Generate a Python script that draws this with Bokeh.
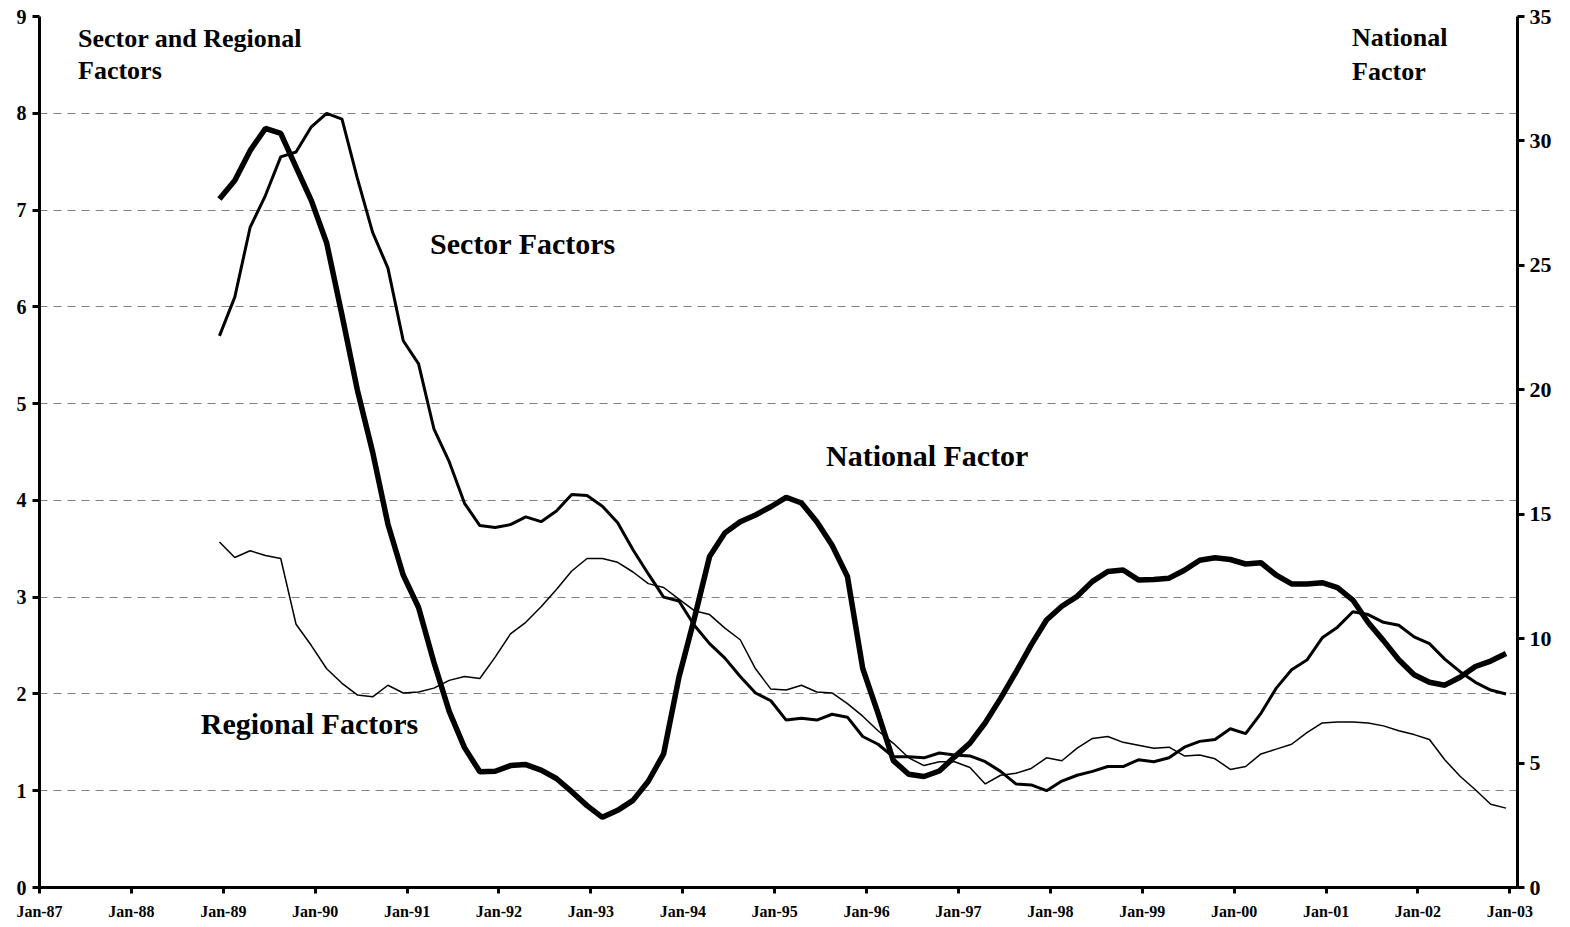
from bokeh.plotting import figure
from bokeh.models import Range1d, LinearAxis, FixedTicker, Label
from bokeh.embed import file_html
from bokeh.resources import INLINE

# months since Jan-87 (bimonthly readings, Dec-88 .. Dec-02)
months = list(range(23, 192, 2))

sector = [5.70, 6.10, 6.82, 7.15, 7.55, 7.60, 7.86, 8.00, 7.94, 7.33,
          6.77, 6.40, 5.65, 5.41, 4.74, 4.40, 3.97, 3.74, 3.72, 3.75,
          3.83, 3.78, 3.89, 4.06, 4.05, 3.94, 3.77, 3.49, 3.24, 3.00,
          2.96, 2.71, 2.52, 2.37, 2.18, 2.01, 1.93, 1.73, 1.75, 1.73,
          1.79, 1.76, 1.56, 1.48, 1.35, 1.35, 1.34, 1.39, 1.37, 1.36,
          1.30, 1.20, 1.07, 1.06, 1.00, 1.10, 1.16, 1.20, 1.25, 1.25,
          1.32, 1.30, 1.34, 1.45, 1.51, 1.53, 1.64, 1.59, 1.80, 2.06,
          2.25, 2.35, 2.58, 2.69, 2.85, 2.82, 2.74, 2.71, 2.59, 2.52,
          2.36, 2.23, 2.12, 2.04, 2.00]

regional = [3.57, 3.41, 3.48, 3.43, 3.40, 2.72, 2.50, 2.26, 2.11, 1.99,
            1.97, 2.09, 2.01, 2.02, 2.06, 2.14, 2.18, 2.16, 2.38, 2.62,
            2.74, 2.90, 3.08, 3.27, 3.40, 3.40, 3.36, 3.26, 3.14, 3.10,
            2.98, 2.86, 2.82, 2.68, 2.56, 2.26, 2.05, 2.04, 2.09, 2.02,
            2.01, 1.90, 1.77, 1.62, 1.49, 1.34, 1.26, 1.30, 1.30, 1.24,
            1.07, 1.16, 1.18, 1.23, 1.34, 1.31, 1.44, 1.54, 1.56, 1.50,
            1.47, 1.44, 1.45, 1.36, 1.37, 1.33, 1.22, 1.25, 1.38, 1.43,
            1.48, 1.60, 1.70, 1.71, 1.71, 1.70, 1.67, 1.62, 1.58, 1.53,
            1.32, 1.15, 1.01, 0.86, 0.82]

national = [27.67, 28.41, 29.61, 30.50, 30.30, 28.95, 27.60, 25.90, 23.00, 20.00,
            17.50, 14.60, 12.55, 11.25, 9.05, 7.08, 5.62, 4.65, 4.67, 4.90,
            4.94, 4.72, 4.38, 3.85, 3.29, 2.82, 3.10, 3.50, 4.27, 5.37,
            8.45, 10.80, 13.30, 14.25, 14.70, 14.97, 15.30, 15.68, 15.45, 14.70,
            13.75, 12.50, 8.80, 7.00, 5.10, 4.55, 4.46, 4.68, 5.25, 5.80,
            6.62, 7.60, 8.65, 9.75, 10.75, 11.30, 11.70, 12.30, 12.70, 12.76,
            12.36, 12.38, 12.43, 12.75, 13.15, 13.25, 13.18, 13.00, 13.05, 12.55,
            12.20, 12.20, 12.25, 12.05, 11.55, 10.65, 9.92, 9.15, 8.55, 8.25,
            8.13, 8.45, 8.88, 9.10, 9.40]

year_ticks = list(range(0, 193, 12))
year_labels = ["Jan-87", "Jan-88", "Jan-89", "Jan-90", "Jan-91", "Jan-92", "Jan-93",
               "Jan-94", "Jan-95", "Jan-96", "Jan-97", "Jan-98", "Jan-99", "Jan-00",
               "Jan-01", "Jan-02", "Jan-03"]
left_ticks = [0, 1, 2, 3, 4, 5, 6, 7, 8, 9]
right_ticks = [0, 5, 10, 15, 20, 25, 30, 35]

FONT = "Liberation Serif"

x = [m + 0.5 for m in months]

p = figure(width=1560, height=925, output_backend="svg", toolbar_location=None,
           x_range=Range1d(0, 193), y_range=Range1d(0, 9),
           min_border_left=39, min_border_right=43, min_border_top=16, min_border_bottom=38)
p.extra_y_ranges = {"nat": Range1d(0, 35)}
p.outline_line_color = None
p.background_fill_color = "white"
p.border_fill_color = "white"

p.xgrid.visible = False
p.ygrid.ticker = FixedTicker(ticks=left_ticks)
p.ygrid.grid_line_color = "#808080"
p.ygrid.grid_line_dash = "8 6"
p.ygrid.grid_line_width = 1

def style_axis(ax, size):
    ax.axis_line_width = 3
    ax.axis_line_color = "black"
    ax.major_tick_line_width = 3
    ax.major_tick_out = 7
    ax.major_tick_in = 0
    ax.minor_tick_line_color = None
    ax.major_label_text_font = FONT
    ax.major_label_text_font_style = "bold"
    ax.major_label_text_font_size = size
    ax.major_label_text_color = "black"

xa = p.xaxis[0]
xa.ticker = FixedTicker(ticks=year_ticks)
xa.major_label_overrides = {t: l for t, l in zip(year_ticks, year_labels)}
style_axis(xa, "16px")
xa.major_tick_out = 6
xa.major_label_standoff = 9

ya = p.yaxis[0]
ya.ticker = FixedTicker(ticks=left_ticks)
style_axis(ya, "20px")
ya.major_label_standoff = 6

ra = LinearAxis(y_range_name="nat", ticker=FixedTicker(ticks=right_ticks))
style_axis(ra, "22px")
ra.major_label_standoff = 5
p.add_layout(ra, "right")

p.line(x, regional, line_color="black", line_width=1.5)
p.line(x, sector, line_color="black", line_width=3)
p.line(x, national, line_color="black", line_width=5.5, y_range_name="nat")

def lab(xv, yv, txt, size):
    p.add_layout(Label(x=xv, y=yv, text=txt, text_font=FONT, text_font_style="bold",
                       text_font_size=size, text_color="black", text_baseline="alphabetic",
                       text_align="left"))

lab(5.03, 8.77, "Sector and Regional", "26px")
lab(5.03, 8.44, "Factors", "26px")
lab(171.4, 8.78, "National", "26px")
lab(171.4, 8.43, "Factor", "26px")
lab(51.0, 6.65, "Sector Factors", "30px")
lab(102.7, 4.46, "National Factor", "30px")
lab(21.06, 1.69, "Regional Factors", "30px")

open("out.html", "w").write(file_html(p, INLINE))
